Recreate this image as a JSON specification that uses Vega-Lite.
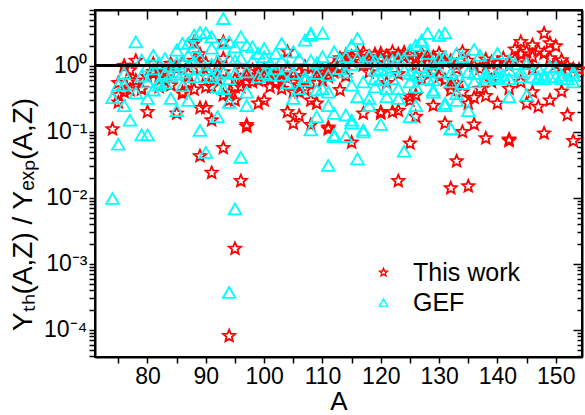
{
  "$schema": "https://vega.github.io/schema/vega-lite/v6.json",
  "width": 487,
  "height": 347,
  "autosize": {"type": "none"},
  "padding": {"left": 95, "top": 10, "right": 3, "bottom": 58},
  "background": "white",
  "config": {
    "view": {"stroke": "black", "strokeWidth": 2, "fill": null},
    "font": "Liberation Sans",
    "axis": {"zindex": 1, "grid": false, "ticks": true, "domainColor": "black", "domainWidth": 2, "tickColor": "black", "tickWidth": 1.5, "labelColor": "black", "labelFont": "Liberation Sans", "labelFontSize": 23, "titleFont": "Liberation Sans", "titleFontWeight": "normal", "titleColor": "black", "labelOverlap": false, "labelBound": false, "labelFlush": false}
  },
  "data": {"values": [
    {"A":74,"v":0.11,"s":"This work"},
    {"A":75,"v":0.55,"s":"This work"},{"A":75,"v":0.28,"s":"This work"},{"A":75,"v":0.36,"s":"This work"},
    {"A":76,"v":0.40,"s":"This work"},{"A":76,"v":1.0,"s":"This work"},{"A":76,"v":0.97,"s":"This work"},
    {"A":77,"v":0.43,"s":"This work"},{"A":77,"v":0.86,"s":"This work"},{"A":77,"v":0.6,"s":"This work"},
    {"A":78,"v":1.2,"s":"This work"},{"A":78,"v":0.6,"s":"This work"},
    {"A":79,"v":0.44,"s":"This work"},{"A":79,"v":0.45,"s":"This work"},
    {"A":80,"v":0.2,"s":"This work"},{"A":80,"v":0.68,"s":"This work"},
    {"A":81,"v":1.08,"s":"This work"},{"A":81,"v":0.81,"s":"This work"},{"A":81,"v":0.76,"s":"This work"},
    {"A":82,"v":0.70,"s":"This work"},{"A":82,"v":0.48,"s":"This work"},{"A":82,"v":0.95,"s":"This work"},
    {"A":83,"v":0.6,"s":"This work"},
    {"A":84,"v":1.08,"s":"This work"},{"A":84,"v":0.51,"s":"This work"},{"A":84,"v":0.8,"s":"This work"},
    {"A":85,"v":0.19,"s":"This work"},{"A":85,"v":0.9,"s":"This work"},
    {"A":86,"v":0.38,"s":"This work"},{"A":86,"v":0.40,"s":"This work"},{"A":86,"v":1.1,"s":"This work"},
    {"A":87,"v":0.75,"s":"This work"},{"A":87,"v":0.55,"s":"This work"},
    {"A":88,"v":2.2,"s":"This work"},{"A":88,"v":0.44,"s":"This work"},{"A":88,"v":1.2,"s":"This work"},{"A":88,"v":2.3,"s":"This work"},
    {"A":89,"v":0.043,"s":"This work"},{"A":89,"v":0.23,"s":"This work"},{"A":89,"v":0.9,"s":"This work"},{"A":89,"v":1.5,"s":"This work"},
    {"A":90,"v":0.23,"s":"This work"},{"A":90,"v":0.48,"s":"This work"},{"A":90,"v":1.1,"s":"This work"},{"A":90,"v":0.7,"s":"This work"},
    {"A":91,"v":0.15,"s":"This work"},{"A":91,"v":0.024,"s":"This work"},{"A":91,"v":0.48,"s":"This work"},
    {"A":92,"v":0.65,"s":"This work"},{"A":92,"v":1.0,"s":"This work"},
    {"A":93,"v":2.3,"s":"This work"},{"A":93,"v":0.36,"s":"This work"},{"A":93,"v":1.29,"s":"This work"},{"A":93,"v":0.057,"s":"This work"},{"A":93,"v":0.8,"s":"This work"},
    {"A":94,"v":0.000081,"s":"This work"},{"A":94,"v":0.30,"s":"This work"},{"A":94,"v":0.38,"s":"This work"},
    {"A":95,"v":0.0017,"s":"This work"},{"A":95,"v":0.30,"s":"This work"},{"A":95,"v":0.48,"s":"This work"},{"A":95,"v":0.62,"s":"This work"},
    {"A":96,"v":0.018,"s":"This work"},{"A":96,"v":0.48,"s":"This work"},{"A":96,"v":0.85,"s":"This work"},
    {"A":97,"v":0.127,"s":"This work"},{"A":97,"v":0.12,"s":"This work"},{"A":97,"v":0.57,"s":"This work"},{"A":97,"v":0.7,"s":"This work"},
    {"A":98,"v":0.86,"s":"This work"},{"A":98,"v":0.57,"s":"This work"},
    {"A":99,"v":0.81,"s":"This work"},{"A":99,"v":0.27,"s":"This work"},{"A":99,"v":0.6,"s":"This work"},
    {"A":100,"v":0.77,"s":"This work"},{"A":100,"v":0.68,"s":"This work"},{"A":100,"v":0.30,"s":"This work"},{"A":100,"v":0.9,"s":"This work"},
    {"A":101,"v":0.48,"s":"This work"},{"A":101,"v":0.77,"s":"This work"},{"A":101,"v":0.62,"s":"This work"},
    {"A":102,"v":0.81,"s":"This work"},{"A":102,"v":0.55,"s":"This work"},
    {"A":103,"v":0.57,"s":"This work"},{"A":103,"v":0.45,"s":"This work"},{"A":103,"v":0.75,"s":"This work"},
    {"A":104,"v":1.63,"s":"This work"},{"A":104,"v":0.86,"s":"This work"},{"A":104,"v":0.20,"s":"This work"},{"A":104,"v":0.65,"s":"This work"},
    {"A":105,"v":0.40,"s":"This work"},{"A":105,"v":0.134,"s":"This work"},{"A":105,"v":0.7,"s":"This work"},
    {"A":106,"v":0.40,"s":"This work"},{"A":106,"v":0.51,"s":"This work"},{"A":106,"v":0.175,"s":"This work"},{"A":106,"v":0.8,"s":"This work"},
    {"A":107,"v":0.97,"s":"This work"},{"A":107,"v":0.43,"s":"This work"},{"A":107,"v":0.62,"s":"This work"},
    {"A":108,"v":0.30,"s":"This work"},{"A":108,"v":0.127,"s":"This work"},{"A":108,"v":0.72,"s":"This work"},
    {"A":109,"v":0.91,"s":"This work"},{"A":109,"v":0.27,"s":"This work"},{"A":109,"v":0.55,"s":"This work"},
    {"A":110,"v":0.86,"s":"This work"},{"A":110,"v":0.6,"s":"This work"},{"A":110,"v":0.75,"s":"This work"},
    {"A":111,"v":0.81,"s":"This work"},{"A":111,"v":0.117,"s":"This work"},{"A":111,"v":0.11,"s":"This work"},{"A":111,"v":0.68,"s":"This work"},
    {"A":112,"v":1.02,"s":"This work"},{"A":112,"v":0.8,"s":"This work"},
    {"A":113,"v":1.2,"s":"This work"},{"A":113,"v":0.91,"s":"This work"},{"A":113,"v":0.43,"s":"This work"},{"A":113,"v":1.3,"s":"This work"},
    {"A":114,"v":1.08,"s":"This work"},{"A":114,"v":1.45,"s":"This work"},{"A":114,"v":0.7,"s":"This work"},
    {"A":115,"v":1.37,"s":"This work"},{"A":115,"v":0.069,"s":"This work"},{"A":115,"v":1.15,"s":"This work"},
    {"A":116,"v":1.54,"s":"This work"},{"A":116,"v":1.25,"s":"This work"},
    {"A":117,"v":1.02,"s":"This work"},{"A":117,"v":0.19,"s":"This work"},{"A":117,"v":1.6,"s":"This work"},
    {"A":118,"v":1.37,"s":"This work"},{"A":118,"v":1.2,"s":"This work"},{"A":118,"v":0.8,"s":"This work"},
    {"A":119,"v":1.5,"s":"This work"},{"A":119,"v":1.1,"s":"This work"},
    {"A":120,"v":1.54,"s":"This work"},{"A":120,"v":0.19,"s":"This work"},{"A":120,"v":0.2,"s":"This work"},{"A":120,"v":1.3,"s":"This work"},
    {"A":121,"v":1.08,"s":"This work"},{"A":121,"v":1.4,"s":"This work"},{"A":121,"v":0.55,"s":"This work"},
    {"A":122,"v":1.63,"s":"This work"},{"A":122,"v":0.20,"s":"This work"},{"A":122,"v":1.25,"s":"This work"},
    {"A":123,"v":0.21,"s":"This work"},{"A":123,"v":0.018,"s":"This work"},{"A":123,"v":1.5,"s":"This work"},{"A":123,"v":0.75,"s":"This work"},
    {"A":124,"v":1.37,"s":"This work"},{"A":124,"v":1.2,"s":"This work"},{"A":124,"v":1.6,"s":"This work"},
    {"A":125,"v":0.30,"s":"This work"},{"A":125,"v":0.34,"s":"This work"},{"A":125,"v":0.067,"s":"This work"},{"A":125,"v":1.45,"s":"This work"},
    {"A":126,"v":0.36,"s":"This work"},{"A":126,"v":1.02,"s":"This work"},{"A":126,"v":0.17,"s":"This work"},{"A":126,"v":1.3,"s":"This work"},
    {"A":127,"v":1.29,"s":"This work"},{"A":127,"v":1.55,"s":"This work"},{"A":127,"v":0.62,"s":"This work"},
    {"A":128,"v":1.08,"s":"This work"},{"A":128,"v":1.4,"s":"This work"},
    {"A":129,"v":0.25,"s":"This work"},{"A":129,"v":1.35,"s":"This work"},{"A":129,"v":0.8,"s":"This work"},
    {"A":130,"v":1.54,"s":"This work"},{"A":130,"v":0.68,"s":"This work"},{"A":130,"v":1.1,"s":"This work"},
    {"A":131,"v":0.61,"s":"This work"},{"A":131,"v":0.134,"s":"This work"},{"A":131,"v":1.15,"s":"This work"},
    {"A":132,"v":0.51,"s":"This work"},{"A":132,"v":0.43,"s":"This work"},{"A":132,"v":1.2,"s":"This work"},{"A":132,"v":0.014,"s":"This work"},
    {"A":133,"v":0.54,"s":"This work"},{"A":133,"v":1.02,"s":"This work"},{"A":133,"v":0.036,"s":"This work"},{"A":133,"v":0.9,"s":"This work"},
    {"A":134,"v":1.63,"s":"This work"},{"A":134,"v":0.10,"s":"This work"},{"A":134,"v":0.40,"s":"This work"},
    {"A":135,"v":0.015,"s":"This work"},{"A":135,"v":0.27,"s":"This work"},{"A":135,"v":1.2,"s":"This work"},
    {"A":136,"v":0.13,"s":"This work"},{"A":136,"v":0.33,"s":"This work"},{"A":136,"v":1.0,"s":"This work"},
    {"A":137,"v":0.45,"s":"This work"},{"A":137,"v":0.9,"s":"This work"},
    {"A":138,"v":0.35,"s":"This work"},{"A":138,"v":0.08,"s":"This work"},{"A":138,"v":1.25,"s":"This work"},
    {"A":139,"v":1.15,"s":"This work"},{"A":139,"v":0.57,"s":"This work"},{"A":139,"v":0.85,"s":"This work"},
    {"A":140,"v":0.27,"s":"This work"},{"A":140,"v":1.1,"s":"This work"},
    {"A":141,"v":1.3,"s":"This work"},
    {"A":142,"v":0.45,"s":"This work"},{"A":142,"v":0.077,"s":"This work"},{"A":142,"v":0.073,"s":"This work"},{"A":142,"v":1.0,"s":"This work"},
    {"A":143,"v":1.77,"s":"This work"},{"A":143,"v":1.25,"s":"This work"},
    {"A":144,"v":2.3,"s":"This work"},{"A":144,"v":0.57,"s":"This work"},{"A":144,"v":1.5,"s":"This work"},
    {"A":145,"v":0.27,"s":"This work"},{"A":145,"v":1.63,"s":"This work"},{"A":145,"v":1.1,"s":"This work"},
    {"A":146,"v":2.05,"s":"This work"},{"A":146,"v":0.40,"s":"This work"},{"A":146,"v":1.37,"s":"This work"},{"A":146,"v":0.9,"s":"This work"},
    {"A":147,"v":0.24,"s":"This work"},{"A":147,"v":1.7,"s":"This work"},
    {"A":148,"v":3.1,"s":"This work"},{"A":148,"v":1.54,"s":"This work"},{"A":148,"v":0.095,"s":"This work"},
    {"A":149,"v":2.2,"s":"This work"},{"A":149,"v":0.30,"s":"This work"},{"A":149,"v":1.3,"s":"This work"},
    {"A":150,"v":1.98,"s":"This work"},{"A":150,"v":1.05,"s":"This work"},
    {"A":151,"v":1.22,"s":"This work"},{"A":151,"v":0.41,"s":"This work"},{"A":151,"v":0.95,"s":"This work"},
    {"A":152,"v":0.18,"s":"This work"},{"A":152,"v":0.81,"s":"This work"},{"A":152,"v":1.0,"s":"This work"},
    {"A":153,"v":0.073,"s":"This work"},{"A":153,"v":0.9,"s":"This work"},
    {"A":154,"v":0.88,"s":"This work"},

    {"A":74,"v":0.0098,"s":"GEF"},{"A":74,"v":0.33,"s":"GEF"},
    {"A":75,"v":0.065,"s":"GEF"},{"A":75,"v":0.51,"s":"GEF"},
    {"A":76,"v":0.25,"s":"GEF"},{"A":76,"v":0.77,"s":"GEF"},{"A":76,"v":0.51,"s":"GEF"},
    {"A":77,"v":0.15,"s":"GEF"},
    {"A":78,"v":2.3,"s":"GEF"},{"A":78,"v":0.39,"s":"GEF"},
    {"A":79,"v":1.22,"s":"GEF"},{"A":79,"v":0.70,"s":"GEF"},{"A":79,"v":0.09,"s":"GEF"},
    {"A":80,"v":0.09,"s":"GEF"},{"A":80,"v":0.32,"s":"GEF"},{"A":80,"v":0.57,"s":"GEF"},{"A":80,"v":1.0,"s":"GEF"},
    {"A":81,"v":1.45,"s":"GEF"},{"A":81,"v":0.43,"s":"GEF"},{"A":81,"v":0.9,"s":"GEF"},
    {"A":82,"v":0.51,"s":"GEF"},{"A":82,"v":0.57,"s":"GEF"},{"A":82,"v":1.1,"s":"GEF"},
    {"A":83,"v":0.77,"s":"GEF"},{"A":83,"v":1.29,"s":"GEF"},{"A":83,"v":0.55,"s":"GEF"},
    {"A":84,"v":0.32,"s":"GEF"},{"A":84,"v":1.0,"s":"GEF"},{"A":84,"v":0.7,"s":"GEF"},
    {"A":85,"v":0.21,"s":"GEF"},{"A":85,"v":1.73,"s":"GEF"},{"A":85,"v":0.75,"s":"GEF"},{"A":85,"v":1.1,"s":"GEF"},
    {"A":86,"v":1.2,"s":"GEF"},{"A":86,"v":0.8,"s":"GEF"},{"A":86,"v":2.18,"s":"GEF"},{"A":86,"v":0.5,"s":"GEF"},
    {"A":87,"v":2.2,"s":"GEF"},{"A":87,"v":1.45,"s":"GEF"},{"A":87,"v":0.30,"s":"GEF"},{"A":87,"v":0.9,"s":"GEF"},
    {"A":88,"v":2.9,"s":"GEF"},{"A":88,"v":0.68,"s":"GEF"},{"A":88,"v":1.94,"s":"GEF"},{"A":88,"v":1.15,"s":"GEF"},
    {"A":89,"v":0.105,"s":"GEF"},{"A":89,"v":3.2,"s":"GEF"},{"A":89,"v":0.68,"s":"GEF"},{"A":89,"v":1.3,"s":"GEF"},
    {"A":90,"v":3.15,"s":"GEF"},{"A":90,"v":0.049,"s":"GEF"},{"A":90,"v":0.9,"s":"GEF"},
    {"A":91,"v":2.75,"s":"GEF"},{"A":91,"v":0.68,"s":"GEF"},{"A":91,"v":1.85,"s":"GEF"},{"A":91,"v":1.05,"s":"GEF"},
    {"A":92,"v":0.17,"s":"GEF"},{"A":92,"v":0.48,"s":"GEF"},{"A":92,"v":1.2,"s":"GEF"},{"A":92,"v":0.75,"s":"GEF"},
    {"A":93,"v":5.2,"s":"GEF"},{"A":93,"v":0.45,"s":"GEF"},{"A":93,"v":0.81,"s":"GEF"},{"A":93,"v":2.2,"s":"GEF"},
    {"A":94,"v":0.00037,"s":"GEF"},{"A":94,"v":2.3,"s":"GEF"},{"A":94,"v":0.64,"s":"GEF"},{"A":94,"v":0.28,"s":"GEF"},{"A":94,"v":1.29,"s":"GEF"},
    {"A":95,"v":0.0068,"s":"GEF"},{"A":95,"v":1.2,"s":"GEF"},{"A":95,"v":0.77,"s":"GEF"},{"A":95,"v":1.94,"s":"GEF"},
    {"A":96,"v":0.041,"s":"GEF"},{"A":96,"v":2.75,"s":"GEF"},{"A":96,"v":1.29,"s":"GEF"},
    {"A":97,"v":0.40,"s":"GEF"},{"A":97,"v":0.25,"s":"GEF"},{"A":97,"v":2.05,"s":"GEF"},{"A":97,"v":0.81,"s":"GEF"},
    {"A":98,"v":1.94,"s":"GEF"},{"A":98,"v":1.2,"s":"GEF"},
    {"A":99,"v":1.54,"s":"GEF"},{"A":99,"v":0.68,"s":"GEF"},
    {"A":100,"v":1.83,"s":"GEF"},{"A":100,"v":0.77,"s":"GEF"},{"A":100,"v":1.37,"s":"GEF"},
    {"A":101,"v":0.72,"s":"GEF"},{"A":101,"v":1.1,"s":"GEF"},
    {"A":102,"v":1.54,"s":"GEF"},{"A":102,"v":0.9,"s":"GEF"},
    {"A":103,"v":2.18,"s":"GEF"},{"A":103,"v":1.2,"s":"GEF"},{"A":103,"v":0.72,"s":"GEF"},
    {"A":104,"v":1.0,"s":"GEF"},{"A":104,"v":0.55,"s":"GEF"},
    {"A":105,"v":0.32,"s":"GEF"},{"A":105,"v":1.63,"s":"GEF"},{"A":105,"v":0.77,"s":"GEF"},
    {"A":106,"v":1.29,"s":"GEF"},{"A":106,"v":0.45,"s":"GEF"},
    {"A":107,"v":2.45,"s":"GEF"},{"A":107,"v":0.6,"s":"GEF"},{"A":107,"v":0.68,"s":"GEF"},
    {"A":108,"v":2.9,"s":"GEF"},{"A":108,"v":3.1,"s":"GEF"},{"A":108,"v":1.2,"s":"GEF"},{"A":108,"v":0.107,"s":"GEF"},
    {"A":109,"v":0.43,"s":"GEF"},{"A":109,"v":0.17,"s":"GEF"},{"A":109,"v":0.77,"s":"GEF"},{"A":109,"v":1.1,"s":"GEF"},
    {"A":110,"v":3.1,"s":"GEF"},{"A":110,"v":1.37,"s":"GEF"},{"A":110,"v":0.45,"s":"GEF"},
    {"A":111,"v":0.031,"s":"GEF"},{"A":111,"v":0.72,"s":"GEF"},{"A":111,"v":0.40,"s":"GEF"},{"A":111,"v":0.25,"s":"GEF"},
    {"A":112,"v":1.63,"s":"GEF"},{"A":112,"v":0.085,"s":"GEF"},{"A":112,"v":0.19,"s":"GEF"},{"A":112,"v":0.09,"s":"GEF"},
    {"A":113,"v":0.91,"s":"GEF"},{"A":113,"v":1.25,"s":"GEF"},
    {"A":114,"v":0.81,"s":"GEF"},{"A":114,"v":1.37,"s":"GEF"},{"A":114,"v":0.085,"s":"GEF"},{"A":114,"v":0.18,"s":"GEF"},
    {"A":115,"v":2.05,"s":"GEF"},{"A":115,"v":0.51,"s":"GEF"},{"A":115,"v":0.15,"s":"GEF"},{"A":115,"v":0.136,"s":"GEF"},{"A":115,"v":1.05,"s":"GEF"},
    {"A":116,"v":2.6,"s":"GEF"},{"A":116,"v":1.29,"s":"GEF"},{"A":116,"v":0.34,"s":"GEF"},{"A":116,"v":0.039,"s":"GEF"},
    {"A":117,"v":1.15,"s":"GEF"},{"A":117,"v":0.57,"s":"GEF"},{"A":117,"v":0.10,"s":"GEF"},{"A":117,"v":0.107,"s":"GEF"},
    {"A":118,"v":0.32,"s":"GEF"},{"A":118,"v":0.25,"s":"GEF"},{"A":118,"v":1.4,"s":"GEF"},
    {"A":119,"v":1.2,"s":"GEF"},{"A":119,"v":0.86,"s":"GEF"},{"A":119,"v":0.64,"s":"GEF"},{"A":119,"v":0.48,"s":"GEF"},
    {"A":120,"v":0.61,"s":"GEF"},{"A":120,"v":0.13,"s":"GEF"},{"A":120,"v":1.2,"s":"GEF"},{"A":120,"v":0.9,"s":"GEF"},
    {"A":121,"v":0.86,"s":"GEF"},{"A":121,"v":0.34,"s":"GEF"},{"A":121,"v":0.45,"s":"GEF"},{"A":121,"v":1.1,"s":"GEF"},
    {"A":122,"v":1.2,"s":"GEF"},{"A":122,"v":0.64,"s":"GEF"},{"A":122,"v":0.95,"s":"GEF"},
    {"A":123,"v":0.45,"s":"GEF"},{"A":123,"v":0.32,"s":"GEF"},{"A":123,"v":1.3,"s":"GEF"},
    {"A":124,"v":0.86,"s":"GEF"},{"A":124,"v":1.29,"s":"GEF"},{"A":124,"v":0.051,"s":"GEF"},
    {"A":125,"v":1.73,"s":"GEF"},{"A":125,"v":0.17,"s":"GEF"},{"A":125,"v":0.57,"s":"GEF"},{"A":125,"v":0.77,"s":"GEF"},
    {"A":126,"v":2.05,"s":"GEF"},{"A":126,"v":0.25,"s":"GEF"},{"A":126,"v":0.72,"s":"GEF"},{"A":126,"v":0.48,"s":"GEF"},
    {"A":127,"v":2.45,"s":"GEF"},{"A":127,"v":2.3,"s":"GEF"},{"A":127,"v":0.95,"s":"GEF"},
    {"A":128,"v":3.1,"s":"GEF"},{"A":128,"v":1.54,"s":"GEF"},{"A":128,"v":0.64,"s":"GEF"},{"A":128,"v":0.85,"s":"GEF"},
    {"A":129,"v":0.40,"s":"GEF"},{"A":129,"v":0.61,"s":"GEF"},{"A":129,"v":0.43,"s":"GEF"},{"A":129,"v":1.1,"s":"GEF"},
    {"A":130,"v":2.9,"s":"GEF"},{"A":130,"v":1.29,"s":"GEF"},{"A":130,"v":0.81,"s":"GEF"},
    {"A":131,"v":3.15,"s":"GEF"},{"A":131,"v":0.27,"s":"GEF"},{"A":131,"v":0.25,"s":"GEF"},{"A":131,"v":1.37,"s":"GEF"},
    {"A":132,"v":0.77,"s":"GEF"},{"A":132,"v":0.57,"s":"GEF"},{"A":132,"v":0.11,"s":"GEF"},{"A":132,"v":0.112,"s":"GEF"},
    {"A":133,"v":1.54,"s":"GEF"},{"A":133,"v":0.86,"s":"GEF"},{"A":133,"v":0.30,"s":"GEF"},{"A":133,"v":0.38,"s":"GEF"},
    {"A":134,"v":1.37,"s":"GEF"},{"A":134,"v":0.54,"s":"GEF"},
    {"A":135,"v":0.81,"s":"GEF"},{"A":135,"v":0.21,"s":"GEF"},
    {"A":136,"v":1.77,"s":"GEF"},{"A":136,"v":0.57,"s":"GEF"},{"A":136,"v":0.77,"s":"GEF"},
    {"A":137,"v":1.45,"s":"GEF"},
    {"A":138,"v":0.68,"s":"GEF"},{"A":138,"v":0.77,"s":"GEF"},{"A":138,"v":0.61,"s":"GEF"},
    {"A":140,"v":1.54,"s":"GEF"},{"A":140,"v":0.68,"s":"GEF"},{"A":140,"v":0.81,"s":"GEF"},{"A":140,"v":0.64,"s":"GEF"},
    {"A":141,"v":0.72,"s":"GEF"},
    {"A":142,"v":1.2,"s":"GEF"},{"A":142,"v":0.86,"s":"GEF"},{"A":142,"v":0.34,"s":"GEF"},{"A":142,"v":0.64,"s":"GEF"},
    {"A":143,"v":1.08,"s":"GEF"},
    {"A":144,"v":0.81,"s":"GEF"},{"A":144,"v":0.68,"s":"GEF"},
    {"A":145,"v":1.08,"s":"GEF"},{"A":145,"v":0.36,"s":"GEF"},
    {"A":146,"v":0.68,"s":"GEF"},
    {"A":147,"v":0.91,"s":"GEF"},{"A":147,"v":0.68,"s":"GEF"},{"A":147,"v":0.64,"s":"GEF"},
    {"A":148,"v":0.72,"s":"GEF"},{"A":148,"v":0.64,"s":"GEF"},
    {"A":149,"v":0.97,"s":"GEF"},{"A":149,"v":0.68,"s":"GEF"},
    {"A":150,"v":0.97,"s":"GEF"},{"A":150,"v":0.68,"s":"GEF"},
    {"A":151,"v":0.72,"s":"GEF"},{"A":151,"v":0.64,"s":"GEF"},
    {"A":152,"v":0.64,"s":"GEF"},
    {"A":153,"v":0.81,"s":"GEF"},{"A":153,"v":0.57,"s":"GEF"},{"A":153,"v":0.72,"s":"GEF"}
  ]},
  "resolve": {"axis": {"x": "independent", "y": "independent"}},
  "layer": [
    {
      "mark": {"type": "point", "opacity": 0},
      "encoding": {
        "x": {"field": "A", "type": "quantitative",
          "scale": {"domain": [71, 154.5], "nice": false, "zero": false},
          "axis": {"orient": "bottom", "values": [75,80,85,90,95,100,105,110,115,120,125,130,135,140,145,150],
            "labelExpr": "datum.value % 10 == 0 ? datum.label : ''",
            "tickSize": 6,
            "labelPadding": 2, "title": "A", "titleFontSize": 26, "titleBaseline": "alphabetic", "titleY": 52}},
        "y": {"field": "v", "type": "quantitative",
          "scale": {"type": "log", "domain": [0.000039, 7], "nice": false},
          "axis": {"orient": "left",
            "values": [0.00004,0.00005,0.00006,0.00007,0.00008,0.00009,0.0001,0.0002,0.0003,0.0004,0.0005,0.0006,0.0007,0.0008,0.0009,0.001,0.002,0.003,0.004,0.005,0.006,0.007,0.008,0.009,0.01,0.02,0.03,0.04,0.05,0.06,0.07,0.08,0.09,0.1,0.2,0.3,0.4,0.5,0.6,0.7,0.8,0.9,1,2,3,4,5,6,7],
            "labelExpr": "datum.value == 1 ? '10⁰' : datum.value == 0.1 ? '10⁻¹' : datum.value == 0.01 ? '10⁻²' : datum.value == 0.001 ? '10⁻³' : datum.value == 0.0001 ? '10⁻⁴' : ''",
            "tickSize": 6,
            "labelPadding": 2, "title": "Yₜₕ(A,Z) / Yₑₓₚ(A,Z)", "titleFontSize": 28, "titleBaseline": "alphabetic", "titleX": -64, "titleY": 204}}
      }
    },
    {
      "mark": {"type": "point", "filled": false, "strokeWidth": 1.8, "size": 160, "opacity": 1},
      "encoding": {
        "x": {"field": "A", "type": "quantitative", "axis": null},
        "y": {"field": "v", "type": "quantitative", "axis": null},
        "color": {"field": "s", "type": "nominal",
          "scale": {"domain": ["This work", "GEF"], "range": ["#ff0000", "#00ffff"]},
          "legend": {"title": null, "orient": "none", "legendX": 276, "legendY": 250, "labelFontSize": 25, "labelFont": "Liberation Sans", "labelColor": "black", "symbolSize": 70, "symbolStrokeWidth": 1.4, "labelOffset": 17, "rowPadding": 4}},
        "shape": {"field": "s", "type": "nominal",
          "scale": {"domain": ["This work", "GEF"], "range": ["M0,-1L0.265,-0.364L0.951,-0.309L0.428,0.139L0.588,0.809L0,0.45L-0.588,0.809L-0.428,0.139L-0.951,-0.309L-0.265,-0.364Z", "triangle-up"]}}
      }
    },
    {
      "mark": {"type": "rule", "color": "black", "strokeWidth": 2},
      "encoding": {"y": {"datum": 1, "type": "quantitative", "axis": null}}
    },
    {
      "mark": {"type": "point", "opacity": 0},
      "encoding": {
        "x": {"field": "A", "type": "quantitative",
          "axis": {"orient": "top", "values": [75,80,85,90,95,100,105,110,115,120,125,130,135,140,145,150], "labels": false, "title": null,
            "tickSize": {"condition": {"test": "datum.value % 10 == 0", "value": -9}, "value": -5}}},
        "y": {"field": "v", "type": "quantitative",
          "axis": {"orient": "right", "labels": false, "title": null,
            "values": [0.00004,0.00005,0.00006,0.00007,0.00008,0.00009,0.0001,0.0002,0.0003,0.0004,0.0005,0.0006,0.0007,0.0008,0.0009,0.001,0.002,0.003,0.004,0.005,0.006,0.007,0.008,0.009,0.01,0.02,0.03,0.04,0.05,0.06,0.07,0.08,0.09,0.1,0.2,0.3,0.4,0.5,0.6,0.7,0.8,0.9,1,2,3,4,5,6,7],
            "tickSize": {"condition": {"test": "indexof([1,0.1,0.01,0.001,0.0001], datum.value) >= 0", "value": -9}, "value": -5}}}
      }
    }
  ]
}
